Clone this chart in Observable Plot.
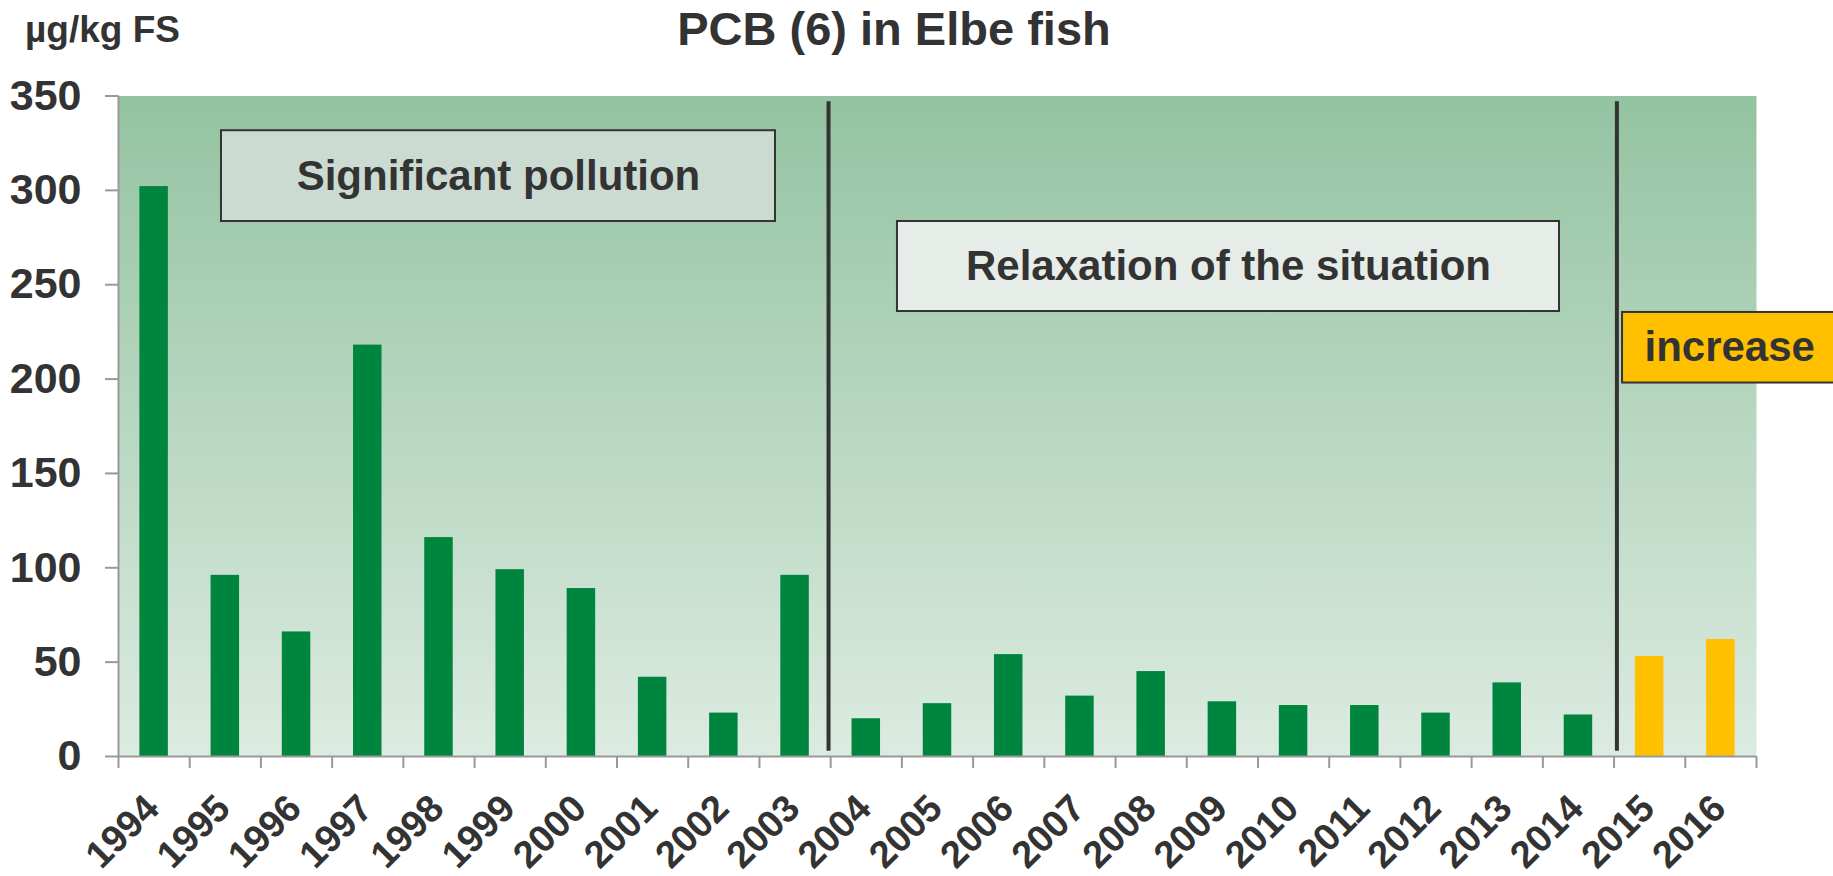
<!DOCTYPE html>
<html>
<head>
<meta charset="utf-8">
<script src="https://cdn.jsdelivr.net/npm/d3@7"></script>
<script src="https://cdn.jsdelivr.net/npm/@observablehq/plot@0.6"></script>
<style>
  html, body { margin: 0; padding: 0; background: #fff; overflow: hidden; }
  #wrap { position: relative; width: 1833px; height: 876px; }
  .lbl { position: absolute; font-family: "Liberation Sans", Arial, sans-serif; font-weight: bold; color: #333; line-height: 1; white-space: nowrap; }
  #title { left: 894px; top: 5px; transform: translateX(-50%); font-size: 47px; }
  #unit { left: 25px; top: 11px; font-size: 37px; }
</style>
</head>
<body>
<div id="wrap">
  <div id="chart"></div>
  <div id="title" class="lbl"></div>
  <div id="unit" class="lbl"></div>
</div>
<script>
// ---- data ----
const years  = [1994, 1995, 1996, 1997, 1998, 1999, 2000, 2001, 2002, 2003, 2004, 2005,
                2006, 2007, 2008, 2009, 2010, 2011, 2012, 2013, 2014, 2015, 2016];
const values = [302, 96, 66, 218, 116, 99, 89, 42, 23, 96, 20, 28,
                54, 32, 45, 29, 27, 27, 23, 39, 22, 53, 62];
const phases = ["base","base","base","base","base","base","base","base","base","base","base","base",
                "base","base","base","base","base","base","base","base","base","increase","increase"];
const yTicks = [0, 50, 100, 150, 200, 250, 300, 350];
const titleText = "PCB (6) in Elbe fish";
const unitText = "µg/kg FS";
const phaseLabels = ["Significant pollution", "Relaxation of the situation", "increase"];

document.getElementById("title").textContent = titleText;
document.getElementById("unit").textContent = unitText;

const data = years.map((year, i) => ({year, value: values[i], phase: phases[i]}));
const boundaries = years.map(y => y - 0.5).concat([years[years.length - 1] + 0.5]);

const boxes = [
  {x1: 1994.946, x2: 2002.725, y1: 283.5, y2: 331.6, fill: "#ccdbd1"},
  {x1: 2004.438, x2: 2013.734, y1: 235.8, y2: 283.5, fill: "#e6ece7"},
  {x1: 2014.619, x2: 2018.5,   y1: 197.9, y2: 235.3, fill: "#ffc000"}
];
const centeredTexts = [
  {x: 1998.835, y: 307.5, text: phaseLabels[0]},
  {x: 2009.086, y: 259.6, text: phaseLabels[1]}
];
const leftTexts = [
  {x: 2014.927, y: 216.6, text: phaseLabels[2]}
];

const chart = Plot.plot({
  width: 1833,
  height: 876,
  marginLeft: 118,
  marginRight: 77,
  marginTop: 95.5,
  marginBottom: 120,
  x: {type: "linear", domain: [1993.5, 2016.5], axis: null},
  y: {domain: [0, 350], axis: null},
  color: {domain: ["base", "increase"], range: ["#00853f", "#ffc000"]},
  style: {fontFamily: "'Liberation Sans', Arial, sans-serif", color: "#333", background: "transparent", overflow: "hidden"},
  marks: [
    Plot.frame({fill: "url(#bgGrad)", stroke: "none"}),
    Plot.ruleX([2003.47, 2014.54], {y1: 2.8, y2: 347, stroke: "#333", strokeWidth: 4}),
    Plot.rect(boxes, {x1: "x1", x2: "x2", y1: "y1", y2: "y2", fill: d => d.fill, stroke: "#333", strokeWidth: 2}),
    Plot.text(centeredTexts, {x: "x", y: "y", text: "text", textAnchor: "middle", fontSize: 42, fontWeight: "bold", fill: "#333", lineAnchor: "middle"}),
    Plot.text(leftTexts, {x: "x", y: "y", text: "text", textAnchor: "start", fontSize: 42, fontWeight: "bold", fill: "#333", lineAnchor: "middle"}),
    Plot.rectY(data, {x1: d => d.year - 0.2, x2: d => d.year + 0.2, y: "value", fill: "phase"}),
    Plot.ruleY([0], {stroke: "#999", strokeWidth: 2}),
    Plot.ruleX([boundaries[0]], {stroke: "#999", strokeWidth: 2}),
    Plot.axisY({ticks: yTicks, tickSize: 13, tickPadding: 24, fontSize: 43, fontWeight: "bold", color: "#333", stroke: "#999", strokeWidth: 2, tickFormat: d => String(d)}),
    Plot.axisX({ticks: boundaries, tickSize: 12, tickFormat: () => "", stroke: "#999", strokeWidth: 2}),
    Plot.text(data, {x: "year", y: () => 0, text: d => String(d.year), rotate: -45, textAnchor: "end", lineAnchor: "bottom", dx: 7, dy: 54, fontSize: 38, fontWeight: "bold", fill: "#333"})
  ]
});

chart.insertAdjacentHTML("afterbegin",
  '<defs><linearGradient id="bgGrad" x1="0" y1="0" x2="0" y2="1">' +
  '<stop offset="0" stop-color="#94c3a1"/><stop offset="1" stop-color="#dcebe1"/>' +
  '</linearGradient></defs>');
document.getElementById("chart").appendChild(chart);
</script>
</body>
</html>
